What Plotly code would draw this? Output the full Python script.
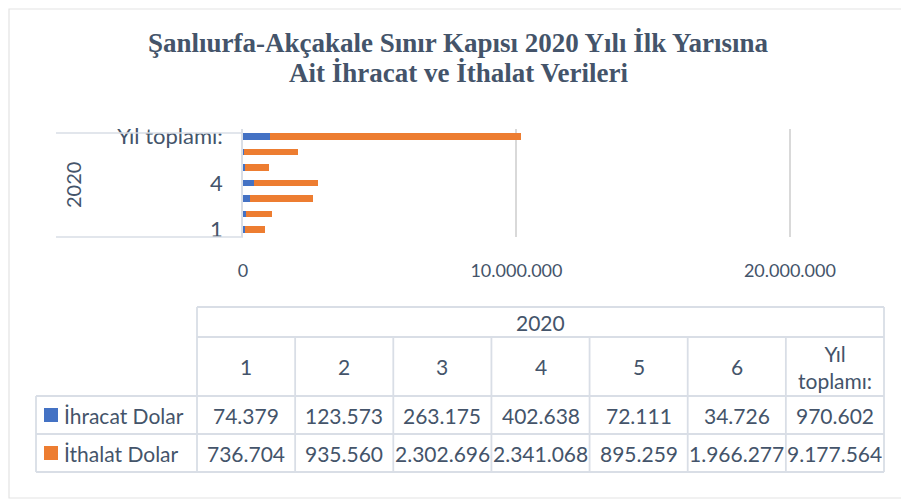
import plotly.graph_objects as go

# ---- data ----
categories = ["1", "2", "3", "4", "5", "6", "Yıl toplamı:"]
group_label = "2020"
ihracat = [74379, 123573, 263175, 402638, 72111, 34726, 970602]
ithalat = [736704, 935560, 2302696, 2341068, 895259, 1966277, 9177564]
series_names = ["İhracat Dolar", "İthalat Dolar"]
series_colors = ["#4472C4", "#ED7D31"]
title_lines = ["Şanlıurfa-Akçakale Sınır Kapısı 2020 Yılı İlk Yarısına",
               "Ait İhracat ve İthalat Verileri"]

W, H = 909, 501
OFF = 8  # page body margin
TXT = "#44546A"
LINE = "#D9DEE6"
FONT = "Lato"


def px(x):
    return (x - OFF) / W


def py(y):
    return 1 - (y - OFF) / H


fig = go.Figure()
for name, vals, col in zip(series_names, [ihracat, ithalat], series_colors):
    fig.add_trace(go.Bar(y=categories, x=vals, name=name, orientation="h",
                         marker=dict(color=col, line=dict(width=0)),
                         showlegend=False))

shapes = []
annotations = []


def ann(text, x, y, font, xanchor="center", yanchor="middle", **kw):
    annotations.append(dict(text=text, xref="paper", yref="paper", x=px(x), y=py(y),
                            showarrow=False, xanchor=xanchor, yanchor=yanchor, font=font, **kw))


def hline(x0, x1, y, line):
    shapes.append(dict(type="line", xref="paper", yref="paper", x0=px(x0), x1=px(x1),
                       y0=py(y), y1=py(y), line=line))


def vline(x, y0, y1, line):
    shapes.append(dict(type="line", xref="paper", yref="paper", x0=px(x), x1=px(x),
                       y0=py(y0), y1=py(y1), line=line))


# outer border (chart frame)
shapes.append(dict(type="rect", xref="paper", yref="paper", x0=px(9), x1=px(930),
                   y0=py(498), y1=py(9), line=dict(color="#E3E3E3", width=1.2)))

# multilevel category axis dividers
for yy in (133, 237):
    hline(56, 243, yy, dict(color=LINE, width=1.5))
ann(group_label, 73, 185, dict(size=20, color=TXT, family=FONT), textangle=-90)

# title (two lines)
tfont_title = dict(family="Liberation Serif", size=27, color=TXT)
ann("<b>" + title_lines[0] + "</b>", 458, 43, tfont_title)
ann("<b>" + title_lines[1] + "</b>", 458, 73, tfont_title)

# ---- data table ----
tx0, tx1 = 197, 884
ncol = len(categories)
cw = (tx1 - tx0) / ncol
leg_x0 = 36
r_top, r_head, r_cat, r_1, r_2 = 307, 337, 396, 434, 472
tfont = dict(size=21, color=TXT, family=FONT)
lw = dict(color=LINE, width=1.8)

hline(tx0, tx1, r_top, lw)
hline(tx0, tx1, r_head, lw)
for yy in (r_cat, r_1, r_2):
    hline(leg_x0, tx1, yy, lw)
vline(tx0, r_top, r_2, lw)
vline(tx1, r_top, r_2, lw)
vline(leg_x0, r_cat, r_2, lw)
for i in range(1, ncol):
    vline(tx0 + i * cw, r_head, r_2, lw)

ann(group_label, (tx0 + tx1) / 2, (r_top + r_head) / 2, tfont)
for i, c in enumerate(categories):
    cx = tx0 + (i + 0.5) * cw
    ann(c.replace(" ", "<br>"), cx, (r_head + r_cat) / 2, tfont)
    for vals, (ya, yb) in zip([ihracat, ithalat], [(r_cat, r_1), (r_1, r_2)]):
        ann(f"{vals[i]:,}".replace(",", "."), cx, (ya + yb) / 2, tfont)

for name, col, (ya, yb) in zip(series_names, series_colors, [(r_cat, r_1), (r_1, r_2)]):
    ym = (ya + yb) / 2
    shapes.append(dict(type="rect", xref="paper", yref="paper", x0=px(44), x1=px(58),
                       y0=py(ym + 7), y1=py(ym - 7), fillcolor=col, line=dict(width=0)))
    ann(name, 62, ym, tfont, xanchor="left")

XMAX = 20000000
fig.update_layout(
    width=W, height=H, autosize=False,
    margin=dict(l=0, r=0, t=0, b=0, pad=0),
    paper_bgcolor="white", plot_bgcolor="white",
    barmode="stack", bargap=0.58,
    separators=",.",
    xaxis=dict(domain=[px(243), px(791)], range=[0, XMAX * 1.002], dtick=10000000,
               tickformat=",d", showgrid=True, gridcolor="#D9D9D9", gridwidth=1.5,
               zeroline=False, showline=False, ticks="", ticklabelstandoff=21,
               automargin=False,
               tickfont=dict(size=18, color=TXT, family=FONT)),
    yaxis=dict(domain=[py(237), py(129)], type="category", categoryorder="array",
               categoryarray=categories, tickvals=[categories[0], categories[3], categories[6]],
               showgrid=False, showline=True, linecolor=LINE, linewidth=1.5,
               ticks="", ticklabelstandoff=14, automargin=False,
               tickfont=dict(size=22, color=TXT, family=FONT)),
    shapes=shapes, annotations=annotations,
)

fig.write_html("out.html")
